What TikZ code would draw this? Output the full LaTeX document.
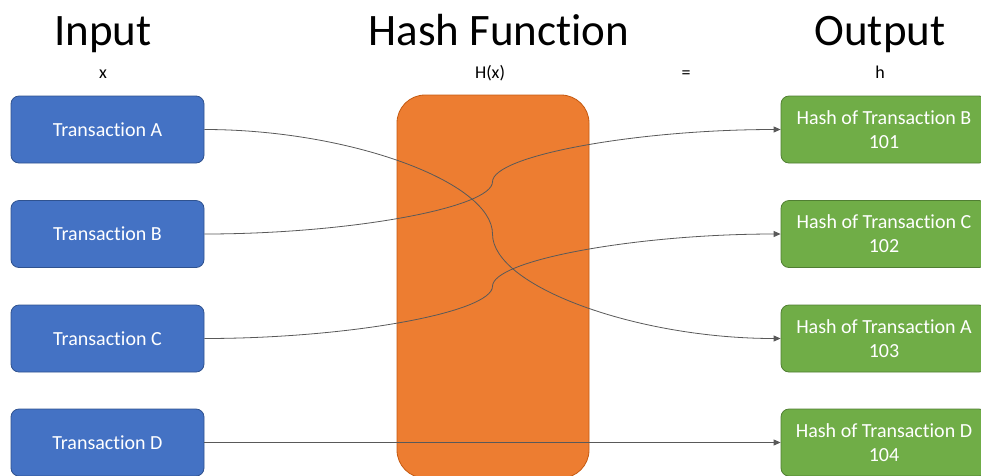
\documentclass[tikz,border=0pt]{standalone}
\usepackage{fontspec}
\setmainfont{Carlito}[Ligatures=NoCommon]
\usetikzlibrary{arrows.meta,calc}

\definecolor{txfill}{HTML}{4472C4}
\definecolor{txline}{HTML}{2F528F}
\definecolor{fnfill}{HTML}{ED7D31}
\definecolor{fnline}{HTML}{C55A11}
\definecolor{hfill}{HTML}{70AD47}
\definecolor{hline}{HTML}{507E32}
\definecolor{linkgray}{HTML}{595959}

\tikzset{
  txbox/.style={rectangle, rounded corners=8pt, draw=txline, fill=txfill, line width=0.8pt,
    minimum width=193pt, minimum height=67pt, text=white, font=\fontsize{20}{24}\selectfont},
  hashbox/.style={rectangle, rounded corners=8pt, draw=hline, fill=hfill, line width=0.8pt,
    minimum width=206pt, minimum height=67pt, text=white, align=center, font=\fontsize{20}{24}\selectfont},
  title/.style={anchor=base, font=\fontsize{45}{50}\selectfont},
  sublabel/.style={anchor=base, font=\fontsize{18}{20}\selectfont},
  link/.style={draw=linkgray, line width=0.8pt, -{Triangle[length=7pt,width=6pt]}}
}

% curved connector, bending through the middle like an office "curved connector"
\newcommand{\hashlink}[2]{%
  \draw[link] let \p1=(#1.east), \p2=(#2.west) in
    (\p1) .. controls ({\x1+(\x2-\x1)/4},\y1) and ({(\x1+\x2)/2},{\y1+(\y2-\y1)/4})
    .. ({(\x1+\x2)/2},{(\y1+\y2)/2})
    .. controls ({(\x1+\x2)/2},{\y1+3*(\y2-\y1)/4}) and ({\x2-(\x2-\x1)/4},\y2) .. (\p2);
}

\begin{document}
\begin{tikzpicture}[x=1pt, y=-1pt]

  \useasboundingbox (0,0) rectangle (981,475);

  % column headings
  \node[title] (intitle)  at (103,45) {Input};
  \node[title] (fntitle)  at (499,45) {Hash Function};
  \node[title] (outtitle) at (880,45) {Output};

  \node[sublabel] (xlab)  at (103,78) {x};
  \node[sublabel] (hxlab) at (490,78) {H(x)};
  \node[sublabel] (eqlab) at (686,78) {=};
  \node[sublabel] (hlab)  at (880,78) {h};

  % hash function block
  \node[rectangle, rounded corners=28pt, draw=fnline, fill=fnfill, line width=0.8pt,
        minimum width=192pt, minimum height=383pt] (hashfn) at (493,286.5) {};

  % inputs
  \node[txbox] (txA) at (107.5,129.5) {Transaction A};
  \node[txbox] (txB) at (107.5,234)   {Transaction B};
  \node[txbox] (txC) at (107.5,338.5) {Transaction C};
  \node[txbox] (txD) at (107.5,442.5) {Transaction D};

  % outputs
  \node[hashbox] (hB) at (884,129.5) {Hash of Transaction B\\101};
  \node[hashbox] (hC) at (884,234)   {Hash of Transaction C\\102};
  \node[hashbox] (hA) at (884,338.5) {Hash of Transaction A\\103};
  \node[hashbox] (hD) at (884,442.5) {Hash of Transaction D\\104};

  \hashlink{txA}{hA}
  \hashlink{txB}{hB}
  \hashlink{txC}{hC}
  \draw[link] (txD) -- (hD);

\end{tikzpicture}
\end{document}
